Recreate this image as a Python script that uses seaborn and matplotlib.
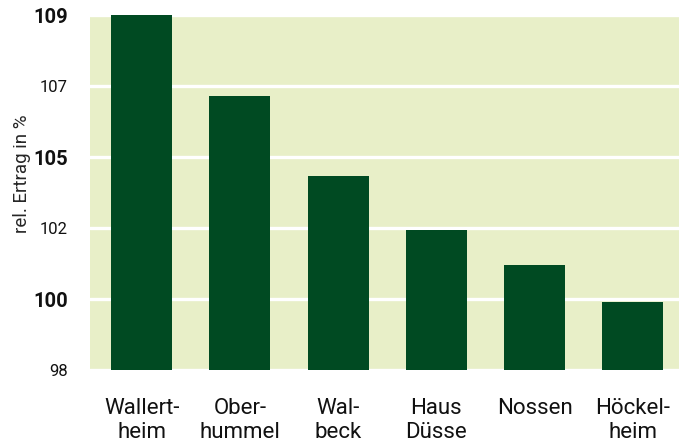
import matplotlib
matplotlib.use('Agg')
import matplotlib.pyplot as plt
import seaborn as sns
import numpy as np

# Daten
orte = ['Wallert-\nheim', 'Ober-\nhummel', 'Wal-\nbeck', 'Haus\nDüsse', 'Nossen', 'Höckel-\nheim']
ertrag = [109.5, 106.5, 104.0, 102.35, 101.25, 100.1]
yticks = [98, 100.2, 102.4, 104.6, 106.8, 109]
ytick_labels = ['98', '100', '102', '105', '107', '109']
fett = [False, True, False, True, False, True]

gruen = '#004A22'
hinter = '#E8EFC8'

sns.set_style('white')
plt.rcParams['font.family'] = ['Roboto', 'DejaVu Sans']
plt.rcParams['text.color'] = '#111111'
plt.rcParams['xtick.color'] = '#111111'
plt.rcParams['ytick.color'] = '#111111'

fig = plt.figure(figsize=(6.79, 4.44), dpi=100)
ax = fig.add_axes([90/679, 74/444, 589/679, 355/444])
ax.set_facecolor(hinter)

sns.barplot(x=orte, y=ertrag, color=gruen, saturation=1, width=0.62, ax=ax,
            zorder=3, linewidth=0, edgecolor=gruen)

ax.set_ylim(98, 109)
ax.set_xlim(-0.525, 5.47)
ax.set_yticks(yticks)
ax.set_yticklabels(ytick_labels)
for lab, f in zip(ax.get_yticklabels(), fett):
    if f:
        lab.set_fontsize(14.5)
        lab.set_fontweight('bold')
    else:
        lab.set_fontsize(12)
ax.tick_params(axis='y', length=0, pad=16)
ax.tick_params(axis='x', length=0, pad=20, labelsize=16)
for lab in ax.get_xticklabels():
    lab.set_linespacing(1.18)

ax.grid(axis='y', color='white', linewidth=2.4, zorder=1)
ax.set_axisbelow(True)
for s in ax.spines.values():
    s.set_visible(False)

ax.set_xlabel('')
ax.set_ylabel('rel. Ertrag in %', fontsize=13.5)
ax.yaxis.set_label_coords(-0.101, 0.552)

fig.savefig('out.png', dpi=100)
